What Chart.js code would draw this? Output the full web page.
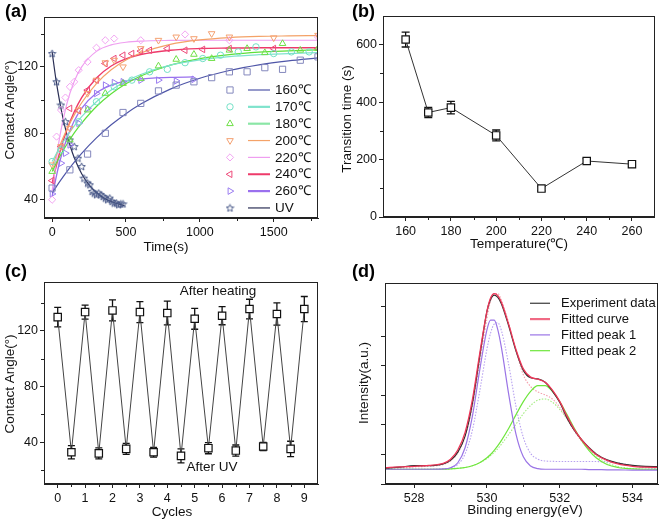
<!DOCTYPE html>
<html><head><meta charset="utf-8">
<script src="https://cdn.jsdelivr.net/npm/chart.js@4.4.0/dist/chart.umd.min.js"></script>
<style>
html,body{margin:0;padding:0;background:#fff;}
#wrap{position:relative;width:661px;height:522px;overflow:hidden;background:#fff;}
canvas{position:absolute;}
</style></head><body>
<div id="wrap">
<canvas id="ca" width="330" height="260" style="left:0;top:0"></canvas>
<canvas id="cb" width="331" height="260" style="left:330px;top:0"></canvas>
<canvas id="cc" width="330" height="262" style="left:0;top:260px"></canvas>
<canvas id="cd" width="331" height="262" style="left:330px;top:260px"></canvas>
</div>
<script>
// ---------- Panel (a): contact angle vs time ----------
const xTicksA = [0, 500, 1000, 1500];
const yTicksA = [40, 80, 120];
const legendA = ['160\u2103', '170\u2103', '180\u2103', '200\u2103', '220\u2103', '240\u2103', '260\u2103', 'UV'];

const t160 = [0,120,240,360,480,600,720,840,960,1080,1200,1320,1440,1560,1680,1800];
const v160 = [47,58,67.5,80,92.5,98,105.5,109,111,113.5,117,117,119.5,118.5,124,126];
const t170 = [0,60,180,300,420,540,660,780,900,1020,1140,1260,1380,1500,1620,1740];
const v170 = [63,70,87,99,108,112,117,118.5,122.5,125,127,129,132,128,129,129];
const t180 = [0,120,240,360,480,600,720,840,960,1080,1200,1320,1440,1560,1680,1800];
const v180 = [57,76,94,104,110,113,120.5,124.5,127.5,125,130,131,128.5,134,130,131];
const t200 = [0,60,120,180,240,300,360,420,480,600,720,840,960,1080,1200,1500,1800];
const v200 = [61,72,83,94,104,112,122.5,124,120,131,136,138,137,140,138,137.5,139];
const t220 = [0,30,60,90,120,150,180,240,300,360,420,600,900,1200,1800];
const v220 = [40,78,94,101.5,108,111,118,123,131.5,136,137,136,139.5,136,138];
const t240 = [0,60,120,180,240,300,360,420,480,540,600,660,780,900,1020,1200,1500,1800];
const v240 = [51.5,72,95,93.5,106,112,122,125,127,128,129.5,130,131,130,130.5,131,131,131];
const t260 = [0,60,90,120,180,240,300,360,420,480,600,720,840,960];
const v260 = [43.5,62,68,73,86,95,104,109,110.5,111,112,112,111.5,112.5];
const tUV = [0,30,60,90,120,150,175,200,215,240,255,270,285,300,315,330,345,360,375,390,405,420,435,450,465,480];
const vUV = [128,111,97,87,76,72,65,60,53,50,49,45,44,43,44,43,42,41,40,41,39,38,38,37,37.5,37.5];

const fitT = [0,50,100,150,200,300,400,500,600,800,1000,1200,1400,1600,1800];
const fit160 = [44,50.7,56.9,62.6,67.9,77.2,85.1,91.8,97.6,106.6,113.1,117.8,121.2,123.6,125.4];
const fit170 = [63,71.1,78.2,84.5,90,99,106,111.3,115.4,121,124.2,126.2,127.3,128,128.6];
const fit180 = [57,65.7,73.4,80.2,86.1,96.1,103.8,109.8,114.5,121,124.9,127.3,128.8,129.6,130.2];
const fit200 = [60,72.1,82.4,91.1,98.4,109.9,118.2,124.1,128.3,133.5,136.2,137.6,138.3,138.6,138.8];
const fit220 = [45,77.1,97.9,111.3,120,129.3,133.2,134.8,135.5,135.9,136,136,136,136,136];
const fit240 = [50,68,82.1,93,101.5,113.3,120.5,124.8,127.4,130,131,131.3,131.5,131.5,131.5];
const fitT260 = [0,50,100,150,200,300,400,500,600,700,800,960];
const fit260 = [42,62.4,77,87.5,95,104.3,109,111.4,112.7,113.3,113.7,113.9];
const uvFitT = [0,25,50,75,100,125,150,200,250,300,350,400,450,490];
const uvFit = [129,112.9,99.6,88.5,79.3,71.6,65.3,55.6,48.9,44.3,41.1,38.9,37.4,36.5];

// ---------- Panel (b): transition time vs temperature ----------
const xTicksB = [160, 180, 200, 220, 240, 260];
const yTicksB = [0, 200, 400, 600];
const tempT = [160,170,180,200,220,240,260];
const transTime = [618,364,381,284,99,195,184];
const transErr = [26,18,22,19,8,8,9];

// ---------- Panel (c): cycles ----------
const xTicksC = [0,1,2,3,4,5,6,7,8,9];
const yTicksC = [40, 80, 120];
const cycX = [0,0.5,1,1.5,2,2.5,3,3.5,4,4.5,5,5.5,6,6.5,7,7.5,8,8.5,9];
const cycV = [129.8,32.8,133.4,32,134.6,35.2,133.4,32.8,132.7,30.2,128.6,35.7,130.8,34,135.6,36.9,132,35.2,135.6];
const cycErr = [7,4.7,5,4,7.5,4,7.5,3.5,8.5,5,7.5,4,6.5,4,7,3,8,5.5,9];

// ---------- Panel (d): XPS ----------
const xTicksD = [528, 530, 532, 534];
const yTicksD = [0,1,2,3,4,5,6];
const legendD = ['Experiment data', 'Fitted curve', 'Fitted peak 1', 'Fitted peak 2'];
const xpsE = [527.2,527.6,528.0,528.4,528.8,529.0,529.2,529.4,529.6,529.8,530.0,530.1,530.2,530.3,530.4,530.6,530.8,531.0,531.2,531.4,531.6,531.8,532.0,532.2,532.4,532.6,532.8,533.0,533.3,533.6,534.0,534.35,534.7];
const xpsExp = [0.54,0.57,0.62,0.62,0.68,0.8,1.08,1.62,2.72,4.3,5.85,6.25,6.4,6.32,6.1,5.35,4.5,3.85,3.6,3.56,3.45,3.15,2.77,2.24,1.82,1.5,1.24,1.02,0.82,0.71,0.63,0.6,0.59];
const xpsFit = [0.55,0.58,0.6,0.63,0.7,0.84,1.15,1.75,2.85,4.4,5.85,6.3,6.45,6.38,6.15,5.4,4.55,3.9,3.62,3.55,3.45,3.18,2.8,2.3,1.85,1.5,1.22,1.0,0.8,0.68,0.6,0.57,0.56];
const xpsFitDot = [0.52,0.55,0.58,0.6,0.66,0.78,1.05,1.6,2.6,4.1,5.6,6.2,6.45,6.45,6.22,5.45,4.5,3.7,3.3,3.12,3.02,2.88,2.6,2.2,1.8,1.45,1.2,1.0,0.8,0.7,0.62,0.58,0.57];
const xpsP1 = [0.5,0.5,0.5,0.5,0.51,0.55,0.72,1.23,2.29,3.84,5.22,5.55,5.55,5.22,4.61,3.03,1.68,0.92,0.61,0.52,0.5,0.5,0.5,0.5,0.5,0.5,0.49,0.49,0.48,0.48,0.47,0.47,0.47];
const xpsP1Dot = [0.5,0.5,0.5,0.5,0.51,0.54,0.66,1.02,1.82,3.13,4.57,5.11,5.42,5.46,5.19,4.03,2.62,1.58,1.04,0.84,0.78,0.77,0.76,0.76,0.76,0.76,0.76,0.76,0.75,0.72,0.62,0.55,0.52];
const xpsP2 = [0.5,0.5,0.5,0.5,0.5,0.51,0.53,0.56,0.62,0.72,0.89,1.0,1.14,1.3,1.48,1.89,2.35,2.79,3.14,3.33,3.33,3.14,2.79,2.35,1.89,1.48,1.14,0.89,0.66,0.56,0.51,0.5,0.5];
const xpsP2Dot = [0.5,0.5,0.5,0.5,0.5,0.51,0.53,0.56,0.62,0.72,0.86,0.96,1.07,1.2,1.35,1.68,2.03,2.38,2.66,2.84,2.88,2.77,2.53,2.21,1.85,1.5,1.2,0.96,0.72,0.59,0.52,0.5,0.5];

// ---------- helpers ----------
const FONT = '"Liberation Sans", Arial, Helvetica, sans-serif';
Chart.defaults.font.family = FONT;
Chart.defaults.color = '#111';

const zip = (xs, ys) => xs.map((x, i) => ({ x: x, y: ys[i] }));

function axis(min, max, tickVals, kind, size, showLabels, pad) {
  return {
    type: 'linear', min: min, max: max,
    afterBuildTicks: s => { s.ticks = tickVals.map(v => ({ value: v })); },
    afterFit: s => { if (kind === 'x') s.height = size; else s.width = size; },
    grid: { display: true, drawOnChartArea: false, drawTicks: true, tickLength: 4, color: '#222', lineWidth: 1 },
    border: { display: true, color: '#222', width: 1 },
    ticks: { display: showLabels !== false, font: { size: 12.5 }, color: '#111', padding: pad == null ? 2 : pad,
             maxRotation: 0, autoSkip: false, callback: v => String(v) }
  };
}

function fitDs(xs, ys, color, w, dash) {
  return { data: zip(xs, ys), showLine: true, pointRadius: 0, borderColor: color, borderWidth: w || 1.2,
           borderDash: dash || [], cubicInterpolationMode: 'monotone', fill: false };
}
function mkDs(xs, ys, color, style, r, rot) {
  return { data: zip(xs, ys), showLine: false, pointStyle: style, pointRadius: r, pointRotation: rot || 0,
           borderColor: color, pointBorderColor: color, pointBackgroundColor: 'rgba(0,0,0,0)', pointBorderWidth: 1 };
}
function starImg(color, size) {
  const c = document.createElement('canvas'); c.width = c.height = size;
  const g = c.getContext('2d'); g.strokeStyle = color; g.lineWidth = 1; g.beginPath();
  const cx = size / 2, cy = size / 2 + 0.3, R = size / 2 - 0.6, r = R * 0.45;
  for (let i = 0; i < 10; i++) {
    const a = -Math.PI / 2 + i * Math.PI / 5, rr = i % 2 ? r : R;
    const x = cx + rr * Math.cos(a), y = cy + rr * Math.sin(a);
    if (i) g.lineTo(x, y); else g.moveTo(x, y);
  }
  g.closePath(); g.stroke(); return c;
}

const decor = {
  id: 'decor',
  beforeDatasetsDraw(chart, args, o) {
    const ctx = chart.ctx, ys = chart.scales.y;
    ctx.save();
    chart.data.datasets.forEach((d, di) => {
      if (!d.errors) return;
      const meta = chart.getDatasetMeta(di);
      ctx.strokeStyle = '#111'; ctx.lineWidth = 1.3;
      d.data.forEach((p, i) => {
        const x = meta.data[i].x, cw = o.capW || 4;
        const yT = ys.getPixelForValue(p.y + d.errors[i]), yB = ys.getPixelForValue(p.y - d.errors[i]);
        ctx.beginPath();
        ctx.moveTo(x, yT); ctx.lineTo(x, yB);
        ctx.moveTo(x - cw, yT); ctx.lineTo(x + cw, yT);
        ctx.moveTo(x - cw, yB); ctx.lineTo(x + cw, yB);
        ctx.stroke();
      });
    });
    ctx.restore();
  },
  afterDraw(chart, args, o) {
    if (!o || !o.letter) return;
    const ctx = chart.ctx, ca = chart.chartArea, xs = chart.scales.x, ys = chart.scales.y;
    ctx.save();
    ctx.strokeStyle = '#222'; ctx.lineWidth = 1;
    ctx.strokeRect(Math.round(ca.left) + 0.5, Math.round(ca.top) + 0.5,
                   Math.round(ca.right - ca.left) - 1, Math.round(ca.bottom - ca.top) - 1);
    ctx.beginPath();
    (o.xMinor || []).forEach(v => { const px = Math.round(xs.getPixelForValue(v)) + 0.5; ctx.moveTo(px, ca.bottom); ctx.lineTo(px, ca.bottom + 3); });
    (o.yMinor || []).forEach(v => { const py = Math.round(ys.getPixelForValue(v)) + 0.5; ctx.moveTo(ca.left, py); ctx.lineTo(ca.left - 3, py); });
    ctx.stroke();
    ctx.fillStyle = '#000';
    ctx.font = 'bold 18px ' + FONT; ctx.textAlign = 'left'; ctx.textBaseline = 'top';
    ctx.fillText(o.letter, o.letterX, o.letterY);
    ctx.font = '13.5px ' + FONT; ctx.textAlign = 'center'; ctx.textBaseline = 'middle'; ctx.fillStyle = '#111';
    ctx.fillText(o.xTitle, o.xTitleX, o.xTitleY);
    ctx.save(); ctx.translate(o.yTitleX, o.yTitleY); ctx.rotate(-Math.PI / 2); ctx.fillText(o.yTitle, 0, 0); ctx.restore();
    (o.texts || []).forEach(t => { ctx.fillText(t.t, t.x, t.y); });
    if (o.legend) {
      const L = o.legend;
      ctx.font = (L.fs || 13) + 'px ' + FONT; ctx.textAlign = 'left'; ctx.textBaseline = 'middle';
      L.items.forEach((it, i) => {
        const y = L.y0 + i * L.dy;
        if (it.m != null) {
          const d = chart.data.datasets[it.m];
          ctx.strokeStyle = d.pointBorderColor; ctx.fillStyle = 'rgba(0,0,0,0)'; ctx.lineWidth = 1;
          Chart.helpers.drawPoint(ctx, { pointStyle: d.pointStyle, radius: d.pointRadius, rotation: d.pointRotation, borderWidth: 1 }, L.mx, y);
        }
        const ld = chart.data.datasets[it.l];
        ctx.strokeStyle = it.c || ld.borderColor; ctx.lineWidth = it.w || ld.borderWidth;
        ctx.setLineDash(ld.borderDash || []);
        ctx.beginPath(); ctx.moveTo(L.x1, y); ctx.lineTo(L.x2, y); ctx.stroke(); ctx.setLineDash([]);
        ctx.fillStyle = '#111'; ctx.fillText(it.text, L.tx, y + 0.5);
      });
    }
    ctx.restore();
  }
};
Chart.register(decor);

const baseOpts = (pad, xs, ys, dec) => ({
  responsive: false, animation: false, devicePixelRatio: 1,
  layout: { padding: pad },
  plugins: { legend: { display: false }, tooltip: { enabled: false }, decor: dec },
  scales: { x: xs, y: ys }
});

// ---------- Chart (a) ----------
const colA = { c160: '#4f56a8', c170: '#7fe3cc', c180: '#5ee03a', c200: '#f4a268', c220: '#ef9ef0', c240: '#ee3a6a', c260: '#9a70ee', uv: '#2a2f55' };
const dsA = [
  mkDs(t160, v160, '#8488bd', 'rect', 4.4),          //0
  mkDs(t170, v170, '#74e0c6', 'circle', 3.2),        //1
  mkDs(t180, v180, '#6ee046', 'triangle', 3.8),      //2
  mkDs(t200, v200, '#f4a070', 'triangle', 3.8, 180), //3
  mkDs(t220, v220, '#f2a4f2', 'rectRot', 3.6),       //4
  mkDs(t240, v240, '#ee4a7a', 'triangle', 3.8, 270), //5
  mkDs(t260, v260, '#9a7cf0', 'triangle', 3.8, 90),  //6
  mkDs(tUV, vUV, '#4a5a8a', starImg('#4a5a8a', 9), 4.5), //7
  fitDs(fitT, fit160, colA.c160, 1.2),   //8
  fitDs(fitT, fit170, colA.c170, 1.2),   //9
  fitDs(fitT, fit180, colA.c180, 1.2),   //10
  fitDs(fitT, fit200, colA.c200, 1.2),   //11
  fitDs(fitT, fit220, colA.c220, 1.2),   //12
  fitDs(fitT, fit240, colA.c240, 1.4),   //13
  fitDs(fitT260, fit260, colA.c260, 1.3),//14
  fitDs(uvFitT, uvFit, colA.uv, 1.2)     //15
];
const legWidthsA = [1.2, 2.2, 2.2, 1.2, 1.2, 2, 2.2, 1.2];
new Chart(document.getElementById('ca'), {
  type: 'scatter',
  data: { datasets: dsA },
  options: baseOpts({ left: 0, right: 12, top: 17, bottom: 0 },
    axis(-55, 1800, xTicksA, 'x', 42, true, 3), axis(29, 150, yTicksA, 'y', 44, true, 2),
    { letter: '(a)', letterX: 5, letterY: 3, xTitle: 'Time(s)', xTitleX: 166, xTitleY: 247,
      yTitle: 'Contact Angle(\u00b0)', yTitleX: 10, yTitleY: 110,
      xMinor: [250, 750, 1250, 1750], yMinor: [60, 100, 140],
      legend: { mx: 230, x1: 248, x2: 270, tx: 275, y0: 90, dy: 16.85, fs: 13.5,
        items: legendA.map((t, i) => ({ text: t, m: i, l: 8 + i, w: legWidthsA[i], c: i === 2 ? '#8be6a6' : null })) } })
});

// ---------- Chart (b) ----------
new Chart(document.getElementById('cb'), {
  type: 'scatter',
  data: { datasets: [{ data: zip(tempT, transTime), errors: transErr, showLine: true, borderColor: '#333', borderWidth: 1,
    pointStyle: 'rect', pointRadius: 5.2, pointBackgroundColor: '#fff', pointBorderColor: '#111', pointBorderWidth: 1.2 }] },
  options: baseOpts({ left: 0, right: 5, top: 16, bottom: 0 },
    axis(150, 270, xTicksB, 'x', 43, true, 3), axis(0, 700, yTicksB, 'y', 53, true, 2),
    { letter: '(b)', letterX: 22, letterY: 3, xTitle: 'Temperature(\u2103)', xTitleX: 189, xTitleY: 244,
      yTitle: 'Transition time (s)', yTitleX: 17, yTitleY: 119, capW: 4,
      xMinor: [170, 190, 210, 230, 250], yMinor: [100, 300, 500] })
});

// ---------- Chart (c) ----------
new Chart(document.getElementById('cc'), {
  type: 'scatter',
  data: { datasets: [{ data: zip(cycX, cycV), errors: cycErr, showLine: true, borderColor: '#444', borderWidth: 1,
    pointStyle: 'rect', pointRadius: 5.2, pointBackgroundColor: '#fff', pointBorderColor: '#111', pointBorderWidth: 1.2 }] },
  options: baseOpts({ left: 0, right: 12, top: 22, bottom: 0 },
    axis(-0.5, 9.5, xTicksC, 'x', 38, true, 3), axis(10, 155, yTicksC, 'y', 44, true, 2),
    { letter: '(c)', letterX: 5, letterY: 3, xTitle: 'Cycles', xTitleX: 172, xTitleY: 252,
      yTitle: 'Contact Angle(\u00b0)', yTitleX: 10, yTitleY: 124, capW: 3.5,
      xMinor: [0.5, 1.5, 2.5, 3.5, 4.5, 5.5, 6.5, 7.5, 8.5], yMinor: [20, 60, 100, 140],
      texts: [{ t: 'After heating', x: 218, y: 31 }, { t: 'After UV', x: 212, y: 207 }] })
});

// ---------- Chart (d) ----------
const dsD = [
  fitDs(xpsE, xpsP2Dot, '#a6ec84', 1.1, [1.5, 1.5]), //0
  fitDs(xpsE, xpsP1Dot, '#b8a2f0', 1.1, [1.5, 1.5]), //1
  fitDs(xpsE, xpsFitDot, '#f4a0ac', 1.1, [1.5, 1.5]),//2
  fitDs(xpsE, xpsP2, '#6ee63c', 1.2),                //3
  fitDs(xpsE, xpsP1, '#9a74e6', 1.2),                //4
  fitDs(xpsE, xpsExp, '#2e2e2e', 1.2),               //5
  fitDs(xpsE, xpsFit, '#ee3658', 1.3)                //6
];
dsD.forEach((d, i) => { d.order = 10 - i; });
new Chart(document.getElementById('cd'), {
  type: 'scatter',
  data: { datasets: dsD },
  options: baseOpts({ left: 0, right: 3, top: 23, bottom: 0 },
    axis(527.2, 534.7, xTicksD, 'x', 38, true, 3), axis(0, 6.81, yTicksD, 'y', 55, false, 2),
    { letter: '(d)', letterX: 22, letterY: 3, xTitle: 'Binding energy(eV)', xTitleX: 195, xTitleY: 250,
      yTitle: 'Intensity(a.u.)', yTitleX: 34, yTitleY: 123,
      xMinor: [529, 531, 533], yMinor: [],
      legend: { mx: null, x1: 200, x2: 220, tx: 231, y0: 43.3, dy: 15.8, fs: 13,
        items: [{ text: legendD[0], l: 5, w: 1.4, c: '#555' }, { text: legendD[1], l: 6, w: 2.2, c: '#f06a84' }, { text: legendD[2], l: 4, w: 1.2 }, { text: legendD[3], l: 3, w: 1.2 }] } })
});
</script>
</body></html>
